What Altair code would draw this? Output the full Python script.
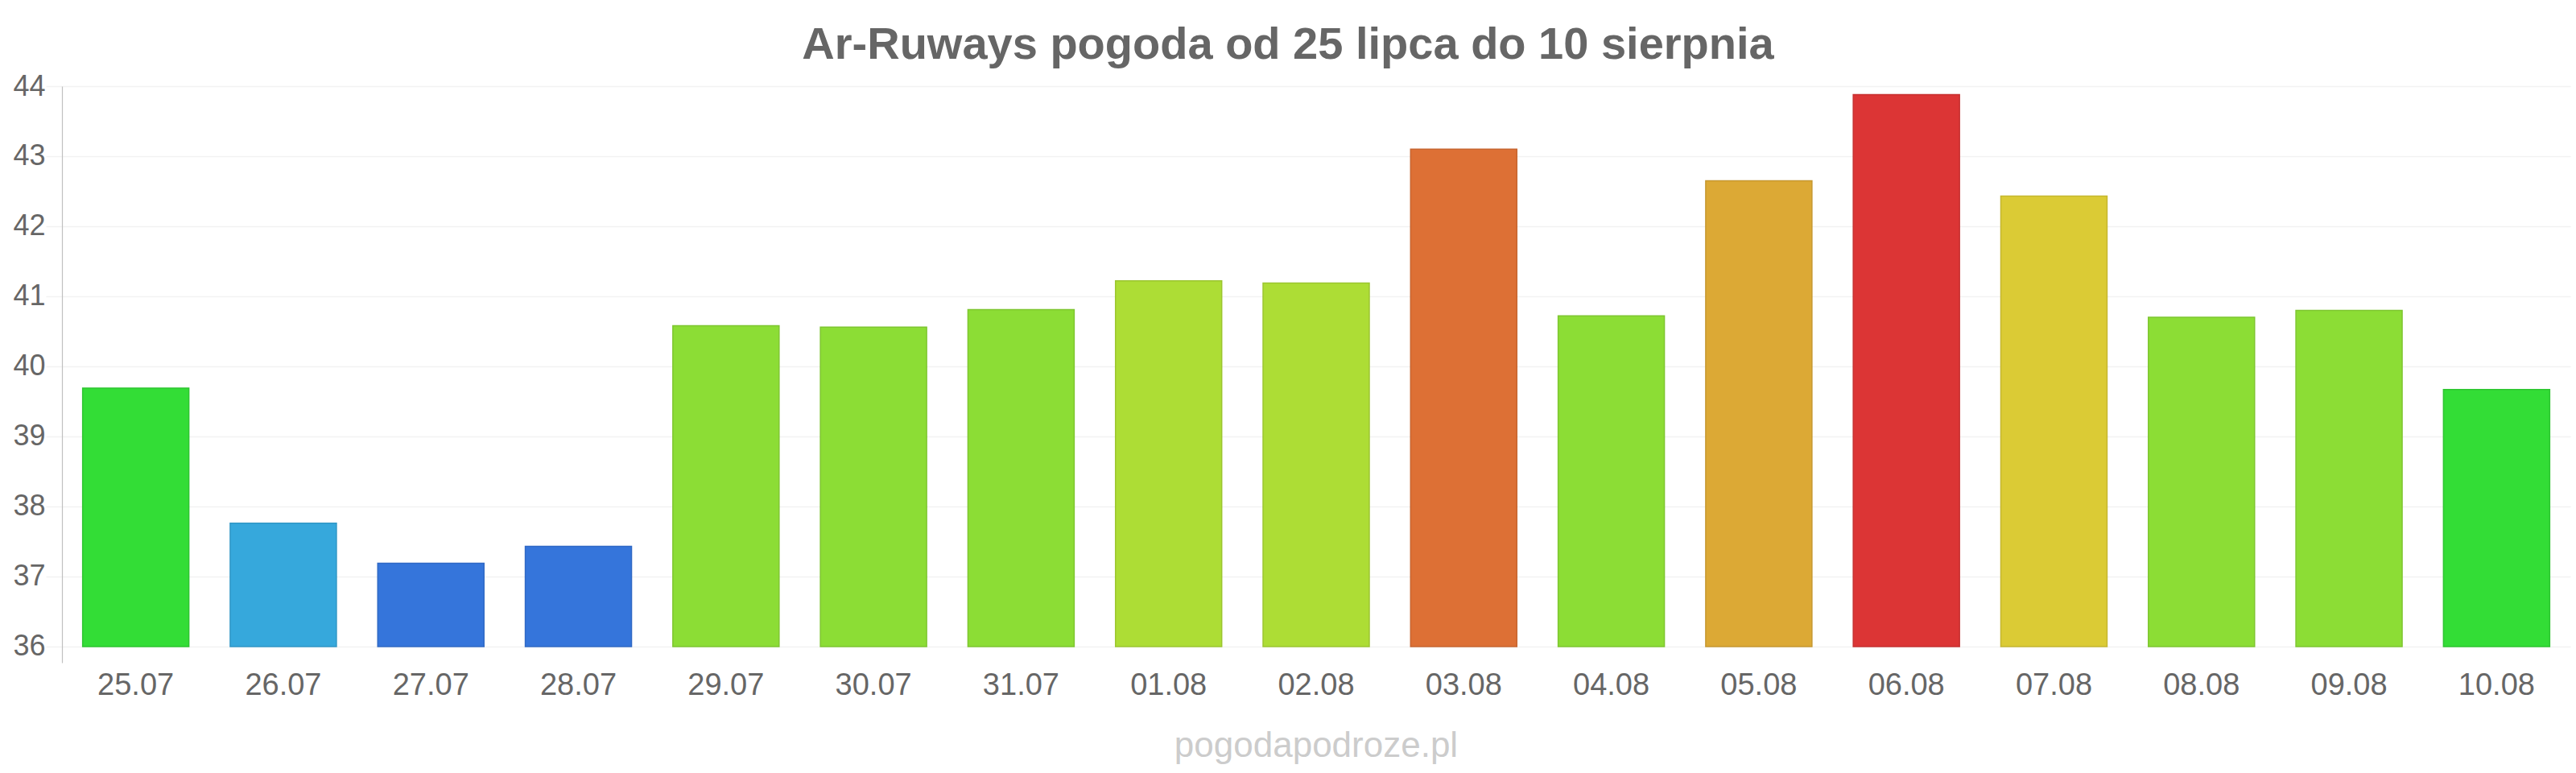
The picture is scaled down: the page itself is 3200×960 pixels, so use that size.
import altair as alt
import pandas as pd

dates = ["25.07", "26.07", "27.07", "28.07", "29.07", "30.07", "31.07", "01.08", "02.08",
         "03.08", "04.08", "05.08", "06.08", "07.08", "08.08", "09.08", "10.08"]
temps = [39.69, 37.76, 37.19, 37.43, 40.58, 40.56, 40.81, 41.22, 41.19,
         43.10, 40.72, 42.65, 43.88, 42.43, 40.70, 40.80, 39.67]
colors = ["#33dd36", "#36a8dc", "#3575db", "#3575db", "#8cdd35", "#8cdd35", "#8cdd35", "#addd35", "#addd35",
          "#dd7035", "#8cdd35", "#dca935", "#dc3535", "#dbcb35", "#8cdd35", "#8cdd35", "#33dd36"]
strokes = ["#2ec531", "#3097c6", "#3069c5", "#3069c5", "#7ec630", "#7ec630", "#7ec630", "#9cc630", "#9cc630",
           "#c76530", "#7ec630", "#c69830", "#c63030", "#c5b730", "#7ec630", "#7ec630", "#2ec531"]
y_ticks = [36, 37, 38, 39, 40, 41, 42, 43, 44]
title_text = "Ar-Ruways pogoda od 25 lipca do 10 sierpnia"
watermark = "pogodapodroze.pl"

df = pd.DataFrame({"date": dates, "temp": temps, "base": [36] * len(dates)})

FONT = "Liberation Sans"
W, H = 3116, 716

x_enc = alt.X("date:N", sort=dates,
              scale=alt.Scale(paddingInner=0.28, paddingOuter=0.14),
              axis=alt.Axis(title=None, labelAngle=0, labelFontSize=38, labelColor="#666666",
                            labelFont=FONT, ticks=False, domain=False, grid=False, labelPadding=9))
y_scale = alt.Scale(domain=[35.77, 44], nice=False, zero=False)

bars = alt.Chart(df).mark_bar(strokeWidth=1.5).encode(
    x=x_enc,
    y=alt.Y("temp:Q", scale=y_scale,
            axis=alt.Axis(title=None, values=y_ticks, labelFontSize=36, labelColor="#666666",
                          labelFont=FONT, gridColor="#f2f2f2", gridWidth=1.5,
                          tickColor="#f2f2f2", tickSize=20, tickWidth=1.5, labelPadding=1,
                          domainColor="#c0c0c0", domainWidth=1.2)),
    y2="base:Q",
    color=alt.Color("date:N", scale=alt.Scale(domain=dates, range=colors), legend=None),
    stroke=alt.Stroke("date:N", scale=alt.Scale(domain=dates, range=strokes), legend=None),
)

wm = alt.Chart(pd.DataFrame({"t": [watermark]})).mark_text(
    font=FONT, fontSize=44, color="#cccccc", baseline="alphabetic", align="center"
).encode(text="t:N", x=alt.value(W / 2), y=alt.value(833))

chart = alt.layer(bars, wm).properties(
    width=W, height=H,
    background="white",
    title=alt.TitleParams(title_text, font=FONT, fontSize=56, fontWeight="bold", color="#666666",
                          anchor="middle", dx=-35, offset=4),
    autosize=alt.AutoSizeParams(type="none"),
    padding={"left": 77, "top": 107, "right": 7, "bottom": 137},
).configure_view(strokeWidth=0, stroke="transparent")

chart.save("out.html", embed_options={"renderer": "svg", "actions": False})
